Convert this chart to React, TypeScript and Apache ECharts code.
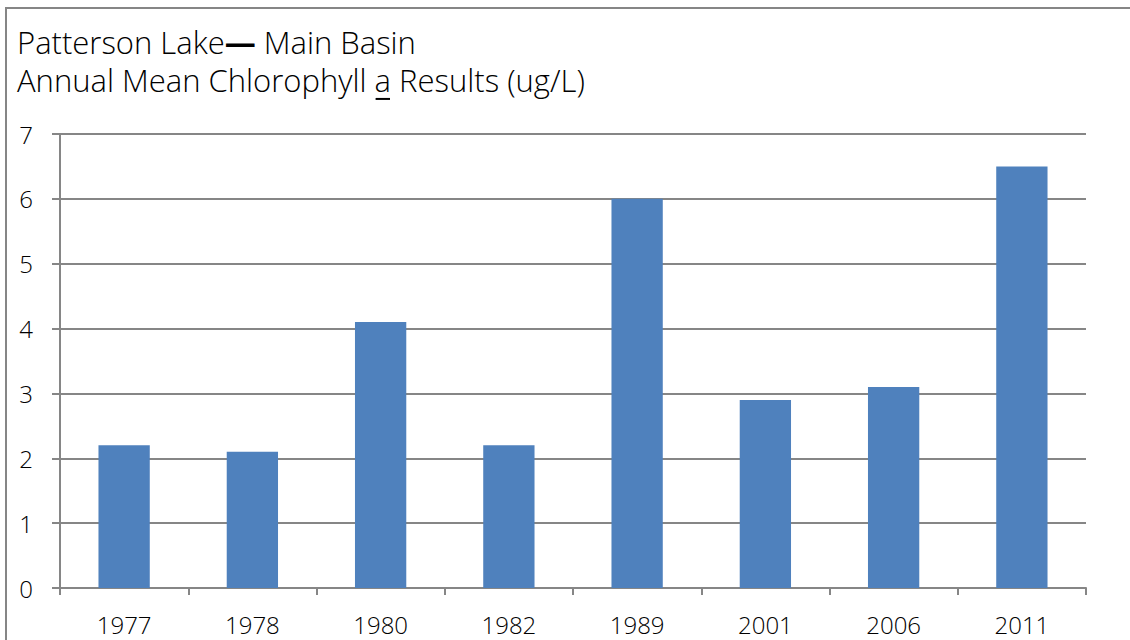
import React, { useEffect, useRef } from "react";
import * as echarts from "echarts";

const categories = ["1977", "1978", "1980", "1982", "1989", "2001", "2006", "2011"];
const values = [2.2, 2.1, 4.1, 2.2, 6.0, 2.9, 3.1, 6.5];
const titleLine1 = "Patterson Lake";
const titleDash = "—";
const titleLine1b = " Main Basin";
const titleLine2a = "Annual Mean Chlorophyll ";
const titleLine2b = "a";
const titleLine2c = " Results (ug/L)";

const FONT = "'Open Sans', 'Noto Sans', sans-serif";
const TITLE_SIZE = 31;
const TITLE_LEFT = 17;
const TITLE_TOP1 = 26;
const TITLE_TOP2 = 64;

function measure(text: string, weight: number, size: number): number {
  const c = document.createElement("canvas").getContext("2d");
  if (!c) return text.length * size * 0.5;
  c.font = `${weight} ${size}px ${FONT}`;
  return c.measureText(text).width;
}

export default function App() {
  const ref = useRef<HTMLDivElement>(null);
  useEffect(() => {
    if (!ref.current) return;
    const chart = echarts.init(ref.current, null, { renderer: "svg" });
    const aStart = TITLE_LEFT + measure(titleLine2a, 300, TITLE_SIZE);
    const aWidth = measure(titleLine2b, 300, TITLE_SIZE);
    const underlineY = TITLE_TOP2 + TITLE_SIZE * 0.5 + TITLE_SIZE * 0.17 + TITLE_SIZE * 0.36 + 3;
    const base = { fontFamily: FONT, fontWeight: 300, fontSize: TITLE_SIZE, color: "#000", lineHeight: TITLE_SIZE };
    chart.setOption({
      animation: false,
      backgroundColor: "#ffffff",
      title: [
        {
          text: `{t|${titleLine1}}{d|${titleDash}}{t|${titleLine1b}}`,
          left: TITLE_LEFT,
          top: TITLE_TOP1,
          padding: 0,
          textStyle: {
            ...base,
            rich: {
              t: { ...base },
              d: { ...base, fontWeight: 700 },
            },
          },
        },
        {
          text: `${titleLine2a}${titleLine2b}${titleLine2c}`,
          left: TITLE_LEFT,
          top: TITLE_TOP2,
          padding: 0,
          textStyle: { ...base },
        },
      ],
      graphic: [
        {
          type: "rect",
          shape: { x: 6, y: 8, width: 1200, height: 800 },
          style: { fill: "none", stroke: "#868686", lineWidth: 2 },
          silent: true,
        },
        {
          type: "line",
          shape: { x1: aStart + 1, y1: underlineY, x2: aStart + aWidth - 1, y2: underlineY },
          style: { stroke: "#000", lineWidth: 2 },
          silent: true,
        },
      ],
      grid: { left: 60, right: 44, top: 134, bottom: 52, containLabel: false },
      xAxis: {
        type: "category",
        data: categories,
        axisLine: { lineStyle: { color: "#868686", width: 2 } },
        axisTick: { show: true, length: 7, lineStyle: { color: "#868686", width: 2 } },
        axisLabel: { color: "#000", fontFamily: FONT, fontWeight: 300, fontSize: 24, lineHeight: 20, margin: 26 },
      },
      yAxis: {
        type: "value",
        min: 0,
        max: 7,
        interval: 1,
        axisLine: { show: true, lineStyle: { color: "#868686", width: 2 } },
        axisTick: { show: true, length: 8, lineStyle: { color: "#868686", width: 2 } },
        splitLine: { lineStyle: { color: "#868686", width: 2 } },
        axisLabel: { color: "#000", fontFamily: FONT, fontWeight: 300, fontSize: 24, margin: 27 },
      },
      series: [
        {
          type: "bar",
          data: values,
          barWidth: "40%",
          itemStyle: { color: "#4F81BD" },
        },
      ],
    });
    return () => chart.dispose();
  }, []);
  return (
    <div
      ref={ref}
      style={{ position: "absolute", left: 0, top: 0, width: 1130, height: 640 }}
    />
  );
}
